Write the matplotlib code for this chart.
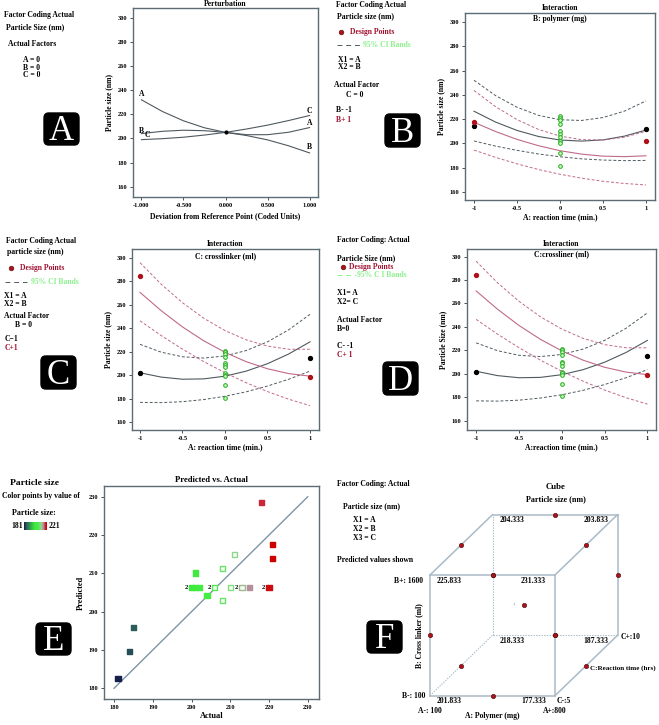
import numpy as np
import matplotlib.pyplot as plt
from matplotlib.colors import LinearSegmentedColormap
from matplotlib.patches import FancyBboxPatch
from matplotlib.lines import Line2D

plt.rcParams['font.family'] = ['Liberation Serif', 'DejaVu Serif']
plt.rcParams['font.weight'] = 'bold'
plt.rcParams['axes.labelweight'] = 'bold'
plt.rcParams['axes.titleweight'] = 'bold'

W, H = 659, 725

# ---------------- data ----------------
coded_x = [-1, -0.75, -0.5, -0.25, 0, 0.25, 0.5, 0.75, 1]

# A: perturbation
pert_A = [232, 222.3, 214.6, 208.8, 205, 203.1, 203.1, 205.1, 209]
pert_B = [204, 205.9, 206.8, 206.4, 205, 202.4, 198.8, 193.9, 188]
pert_C = [199, 199.8, 201, 202.8, 205, 207.8, 211, 214.8, 219]

# B: interaction A x B  (low = B-, high = B+)
ab_low = [226.5, 217.6, 210.7, 205.7, 202.8, 201.9, 202.9, 206, 211]
ab_low_up = [252, 239.4, 229.8, 223.1, 219.5, 218.9, 221.3, 226.6, 235]
ab_low_dn = [202, 197.8, 194.3, 191.3, 189, 187.3, 186.3, 185.8, 186]
ab_high = [217.4, 209.8, 203.3, 198.1, 194, 191.2, 189.5, 189.1, 189.8]
ab_high_up = [243.6, 230.3, 219.6, 211.5, 206, 203.1, 202.8, 205.1, 210]
ab_high_dn = [194.5, 188.5, 183.2, 178.5, 174.6, 171.4, 168.8, 167, 165.8]
ab_pts_low = [214, 212]
ab_pts_high = [218, 202]
ab_center = [222.5, 221, 219.5, 216, 210, 207.5, 205.5, 202, 200, 192, 181]

# C / D: interaction A x C  (low = C-, high = C+)
ac_low = [202.3, 198.6, 196.8, 197.1, 199.4, 203.7, 210, 218.3, 228.6]
ac_low_up = [226.5, 219.8, 215.9, 214.8, 216.6, 221.2, 228.6, 238.9, 252]
ac_low_dn = [177.1, 176.9, 177.7, 179.5, 182.3, 186.1, 191, 196.8, 203.7]
ac_high = [270.7, 255.1, 241.3, 229.5, 219.7, 211.7, 205.7, 201.6, 199.4]
ac_high_up = [296, 277.6, 261.9, 248.7, 238.2, 230.3, 225, 222.3, 222.3]
ac_high_dn = [246.5, 233.9, 222.4, 211.8, 202.3, 193.8, 186.3, 179.8, 174.3]
ac_pts_low = [202, 215]
ac_pts_high = [284.5, 199]
ac_center = [221, 220, 218.5, 216, 210.5, 209, 207, 202, 200.5, 199.5, 191.5, 181]

# E: predicted vs actual
actual = [181, 184, 185, 200, 201, 202, 201, 204, 206, 208, 208, 211, 210, 213, 215, 220, 218, 221, 221]
predicted = [182.5, 189.5, 195.8, 206.3, 206.3, 206.3, 210.1, 204.2, 206.3, 203.0, 211.3,
             215.0, 206.3, 206.3, 206.3, 206.3, 228.5, 217.5, 213.8]
hollow = [0, 0, 0, 0, 0, 0, 0, 0, 1, 1, 1, 1, 1, 1, 0, 0, 0, 0, 0]
twice = [200, 206, 213, 220]  # points labelled "2"

# F: cube corners (A, B, C) and predicted values
corner_A = [-1, 1, -1, 1, -1, 1, -1, 1]
corner_B = [-1, -1, 1, 1, -1, -1, 1, 1]
corner_C = [-1, -1, -1, -1, 1, 1, 1, 1]
corner_val = ['201.833', '177.333', '225.833', '231.333', '218.333', '187.333', '204.333', '203.833']
edge_A = [0, 0, 0, 0, -1, 1, -1, 1, -1, 1, -1, 1, 0]
edge_B = [-1, 1, -1, 1, 0, 0, 0, 0, -1, -1, 1, 1, 0]
edge_C = [-1, -1, 1, 1, -1, -1, 1, 1, 0, 0, 0, 0, 0]

GRAY = '#4f5a60'
PINK = '#c06a8a'
RED = '#b01018'
SPINE = '#5d6b74'
FS = 5.5
TS = 4.6

fig = plt.figure(figsize=(W / 100, H / 100), dpi=100)


def box(l, t, r, b):
    return [l / W, 1 - b / H, (r - l) / W, (b - t) / H]


def txt(x, y, s, **kw):
    kw.setdefault('fontsize', FS)
    kw.setdefault('va', 'center')
    fig.text(x / W, 1 - y / H, s, **kw)


def dot(x, y, color=RED):
    fig.add_artist(Line2D([x / W], [1 - y / H], marker='o', ms=3.4, color=color, mec='#501010', mew=0.4))


def dashes(x0, x1, y, color=GRAY):
    fig.add_artist(Line2D([x0 / W, x1 / W], [1 - y / H] * 2, color=color, lw=0.7, ls=(0, (5, 4))))


def badge(l, t, r, b, letter):
    fig.add_artist(FancyBboxPatch((l / W, 1 - b / H), (r - l) / W, (b - t) / H,
                                  boxstyle='round,pad=0,rounding_size=0.007',
                                  transform=fig.transFigure, color='black'))
    fig.text((l + r) / 2 / W, 1 - (b - 4.5) / H, letter, color='white', fontsize=25,
             fontweight='normal', ha='center', va='baseline')


def style(ax):
    for s in ax.spines.values():
        s.set_color(SPINE)
        s.set_linewidth(1.0)
    ax.tick_params(labelsize=TS, length=2.5, width=0.6, pad=1.5, color='#333333')


# ---------------- A ----------------
ax = fig.add_axes(box(133, 8, 318, 197))
style(ax)
for vals in (pert_A, pert_B, pert_C):
    ax.plot(coded_x, vals, color=GRAY, lw=0.8)
ax.plot([0], [pert_A[4]], 'o', color='black', ms=2)
ax.text(-1, 235.5, 'A', fontsize=FS, ha='center')
ax.text(-1, 206, 'B', fontsize=FS, ha='center', va='center')
ax.text(-0.93, 202.5, 'C', fontsize=FS, ha='center', va='center')
ax.text(1, 223, 'C', fontsize=FS, ha='center', va='center')
ax.text(1, 213, 'A', fontsize=FS, ha='center', va='center')
ax.text(1, 192.5, 'B', fontsize=FS, ha='center', va='center')
ax.set_xlim(-1.1, 1.1)
ax.set_ylim(151.5, 308)
ax.set_xticks([-1, -0.5, 0, 0.5, 1])
ax.set_xticklabels(['-1.000', '-0.500', '0.000', '0.500', '1.000'])
ax.set_yticks(range(160, 301, 20))
ax.set_title('Perturbation', fontsize=FS, pad=1.5)
ax.set_xlabel('Deviation from Reference Point (Coded Units)', fontsize=FS, labelpad=3)
ax.set_ylabel('Particle size (nm)', fontsize=FS, labelpad=3)

txt(4, 15, 'Factor Coding Actual')
txt(5.5, 27, 'Particle Size (nm)')
txt(8, 44, 'Actual Factors')
txt(23, 60, 'A = 0')
txt(23, 67.5, 'B = 0')
txt(23, 75, 'C = 0')
badge(44, 113, 79, 145, 'A')


# ---------------- interaction panels ----------------
def interaction(rect, xlim, ylim, lo, lo_up, lo_dn, hi, hi_up, hi_dn,
                pts_lo, pts_hi, center, inner, xlabel, ylabel, inner_y):
    ax = fig.add_axes(box(*rect))
    style(ax)
    ax.plot(coded_x, lo, color=GRAY, lw=0.8)
    ax.plot(coded_x, lo_up, color=GRAY, lw=0.7, ls=(0, (3, 2)))
    ax.plot(coded_x, lo_dn, color=GRAY, lw=0.7, ls=(0, (3, 2)))
    ax.plot(coded_x, hi, color=PINK, lw=0.8)
    ax.plot(coded_x, hi_up, color=PINK, lw=0.7, ls=(0, (3, 2)))
    ax.plot(coded_x, hi_dn, color=PINK, lw=0.7, ls=(0, (3, 2)))
    ax.scatter([-1, 1], pts_lo, s=8, color='black', zorder=5)
    ax.scatter([-1, 1], pts_hi, s=8, color=RED, zorder=5)
    ax.scatter([0] * len(center), center, s=7, facecolor='#c8ffb8', edgecolor='#22aa22',
               lw=0.7, zorder=6)
    ax.set_xlim(*xlim)
    ax.set_ylim(*ylim)
    ax.set_xticks([-1, -0.5, 0, 0.5, 1])
    ax.set_xticklabels(['-1', '-0.5', '0', '0.5', '1'])
    ax.set_yticks(range(160, 301, 20))
    ax.set_title('Interaction', fontsize=FS, pad=2)
    ax.text(0.5, inner_y, inner, transform=ax.transAxes, fontsize=FS, ha='center', va='center')
    ax.set_xlabel(xlabel, fontsize=FS, labelpad=2)
    ax.set_ylabel(ylabel, fontsize=FS, labelpad=3)
    return ax


interaction((465, 13, 655, 200), (-1.105, 1.105), (153.4, 307.4),
            ab_low, ab_low_up, ab_low_dn, ab_high, ab_high_up, ab_high_dn,
            ab_pts_low, ab_pts_high, ab_center, 'B: polymer (mg)',
            'A: reaction time (min.)', 'Particle size (nm)', 0.967)
txt(336, 5, 'Factor Coding Actual')
txt(337, 16, 'Particle size (nm)')
dot(341, 32)
txt(350, 32, 'Design Points', color='#a01030')
dashes(337, 362, 45)
txt(363, 45, '95% CI Bands', color='#8cf08c')
txt(338, 60, 'X1 = A')
txt(338, 67, 'X2 = B')
txt(334, 85, 'Actual Factor')
txt(346, 95, 'C = 0')
txt(336, 110, 'B- -1')
txt(336, 120, 'B+ 1', color='#a01030')
badge(385, 114, 420, 147, 'B')

interaction((132, 249, 319, 430), (-1.094, 1.106), (153.6, 307.6),
            ac_low, ac_low_up, ac_low_dn, ac_high, ac_high_up, ac_high_dn,
            ac_pts_low, ac_pts_high, ac_center, 'C: crosslinker (ml)',
            'A: reaction time (min.)', 'Particle size (nm)', 0.96)
txt(6, 241, 'Factor Coding Actual')
txt(7, 252, 'particle size (nm)')
dot(11, 268)
txt(20, 268.5, 'Design Points', color='#a01030')
dashes(5, 27, 282)
txt(31, 282, '95% CI Bands', color='#8cf08c')
txt(4.5, 296.5, 'X1 = A')
txt(4.5, 303.5, 'X2 = B')
txt(4.5, 316, 'Actual Factor')
txt(15, 325, 'B = 0')
txt(5, 339, 'C\u22121')
txt(5, 348, 'C+1', color='#a01030')
badge(41, 356, 76, 389, 'C')

interaction((467, 249, 656, 430), (-1.107, 1.1), (152.3, 306.4),
            ac_low, ac_low_up, ac_low_dn, ac_high, ac_high_up, ac_high_dn,
            ac_pts_low, ac_pts_high, ac_center, 'C:crossliner (ml)',
            'A:reaction time (min.)', 'Particle Size (nm)', 0.97)
txt(337, 240, 'Factor Coding: Actual')
txt(337, 258, 'Particle Size (nm)')
dot(343, 267)
txt(349, 267, 'Design Points', color='#a01030')
dashes(337, 356, 275, color='#8cf08c')
txt(357, 275, '95% C I Bands', color='#8cf08c')
txt(337, 293, 'X1= A')
txt(337, 302, 'X2= C')
txt(337, 320, 'Actual Factor')
txt(337, 329, 'B=0')
txt(337, 346, 'C- -1')
txt(337, 355, 'C+ 1', color='#a01030')
badge(383, 362, 418, 395, 'D')

# ---------------- E ----------------
cmap = LinearSegmentedColormap.from_list('ps', [
    (0, '#16204a'), (0.1, '#2b5e5a'), (0.45, '#3de83d'), (0.6, '#44ee44'),
    (0.75, '#90d890'), (0.82, '#a8a890'), (0.87, '#c080a0'), (0.93, '#cc2030'), (1, '#cc0000')])
norm = plt.Normalize(181, 221)

ax = fig.add_axes(box(104, 486, 319, 699))
style(ax)
ax.plot([180, 230], [180, 230], color='#7d95a5', lw=1.0, zorder=1)
act = np.array(actual)
pred = np.array(predicted)
hol = np.array(hollow, bool)
cols = cmap(norm(act))
ax.scatter(act[~hol], pred[~hol], marker='s', s=14, color=cols[~hol], zorder=3)
ax.scatter(act[hol], pred[hol], marker='s', s=14, facecolor='#f4fff0', edgecolor=cols[hol],
           lw=1.0, zorder=3)
for xv in twice:
    ax.text(xv - 0.9, pred[list(actual).index(xv)], '2', fontsize=4.8, ha='right', va='center')
ax.set_xlim(177.4, 232.9)
ax.set_ylim(177.2, 232.8)
ax.set_xticks(range(180, 231, 10))
ax.set_yticks(range(180, 231, 10))
ax.set_title('Predicted vs. Actual', fontsize=6.2, pad=3)
ax.set_xlabel('Actual', fontsize=FS + 0.5, labelpad=2)
ax.set_ylabel('Predicted', fontsize=FS + 0.5, labelpad=3)

txt(10, 483, 'Particle size', fontsize=6.8)
txt(2, 496, 'Color points by value of')
txt(12, 513, 'Particle size:', fontsize=5.8)
txt(11, 526, '181')
txt(49, 526, '221')
cax = fig.add_axes(box(24, 522, 47, 530))
cax.imshow(np.linspace(0, 1, 64)[None, :], cmap=cmap, aspect='auto')
cax.axis('off')
badge(36, 623, 71, 655, 'E')

# ---------------- F ----------------
ax = fig.add_axes(box(330, 470, 659, 725))
ax.set_xlim(-2.6, 2.664)
ax.set_ylim(-1.486, 2.74)
ax.axis('off')


def proj(a, b, c):
    return a + 0.5 * (c + 1), b + 0.5 * (c + 1)


corners = list(zip(corner_A, corner_B, corner_C))
for i, p in enumerate(corners):
    for q in corners[i + 1:]:
        if sum(u != v for u, v in zip(p, q)) != 1:
            continue
        hidden = (-1, -1, 1) in (p, q)
        (x0, y0), (x1, y1) = proj(*p), proj(*q)
        ax.plot([x0, x1], [y0, y1], color='#a9bac8', lw=1.1 if not hidden else 0.8,
                ls=(0, (1.2, 1.2)) if hidden else '-', zorder=1)

for (a, b, c), v in zip(corners, corner_val):
    x, y = proj(a, b, c)
    if a < 0:
        ax.annotate(v, (x, y), xytext=(5, -4), textcoords='offset points', fontsize=FS,
                    ha='left', va='center')
    else:
        ax.annotate(v, (x, y), xytext=(-6.5, -4), textcoords='offset points', fontsize=FS,
                    ha='right', va='center')

ex, ey = proj(np.array(edge_A), np.array(edge_B), np.array(edge_C))
ax.scatter(ex, ey, s=10, color=RED, edgecolor='#401010', lw=0.4, zorder=4)
ax.text(ex[-1] - 0.13, ey[-1], '?', fontsize=3.5, color='#aaaaaa', ha='right', va='center')


def lab(pt, s, dx, dy, **kw):
    kw.setdefault('fontsize', FS)
    kw.setdefault('va', 'center')
    ax.annotate(s, proj(*pt), xytext=(dx, dy), textcoords='offset points', **kw)


lab((-1, 1, -1), 'B+: 1600', -5, -4, ha='right')
lab((-1, -1, -1), 'B-: 100', -3.5, 0, ha='right')
lab((-1, -1, -1), 'A-: 100', 0, -11, ha='center')
lab((1, -1, -1), 'A+:800', 0, -11, ha='center')
lab((0, -1, -1), 'A: Polymer (mg)', 0, -14.5, ha='center')
lab((1, -1, -1), 'C-:5', 1, -3.5, ha='left')
lab((1, -1, 1), 'C+:10', 2.5, -1, ha='left')
lab((1, -1, 0), 'C:Reaction time (hrs)', 2.5, -2, ha='left', fontsize=5.0)
lab((-1, 0, -1), 'B: Cross linker (ml)', -8, 0, ha='center', rotation=90)

txt(556, 487, 'Cube', fontsize=6.3, ha='center')
txt(556, 499, 'Particle size (nm)', fontsize=FS + 0.3, ha='center')
txt(337, 484, 'Factor Coding: Actual')
txt(343, 506, 'Particle size (nm)')
txt(353, 520, 'X1 = A')
txt(353, 529, 'X2 = B')
txt(353, 538, 'X3 = C')
txt(337, 560, 'Predicted values shown')
badge(367, 621, 402, 653, 'F')

fig.savefig('out.png', dpi=100)
